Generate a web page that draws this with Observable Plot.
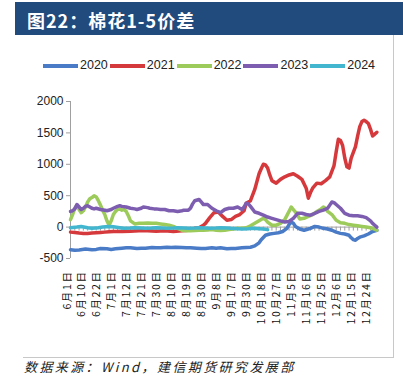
<!DOCTYPE html>
<html><head><meta charset="utf-8">
<script src="https://cdn.jsdelivr.net/npm/d3@7"></script>
<script src="https://cdn.jsdelivr.net/npm/@observablehq/plot@0.6"></script>
<style>
body{margin:0;background:#fff;}
#wrap{position:relative;width:403px;height:392px;overflow:hidden;background:#fff;font-family:"Liberation Sans",Arial,sans-serif;}
#title{position:absolute;left:15px;top:2px;width:388px;height:33px;background:#214a7d;color:#fff;font-family:"Noto Sans CJK SC";font-weight:bold;font-size:18px;line-height:33px;padding-left:12px;box-sizing:border-box;letter-spacing:1px}
#title span{position:relative;top:2px}
#legend{position:absolute;left:43px;top:58px;height:15px;display:flex;align-items:center}
.sw{width:35px;height:4px;margin-right:2px}
.lt{font-size:12.5px;color:#222;margin-right:2px;line-height:15px}
#chart{position:absolute;left:0;top:80px}
#frameR{position:absolute;left:393px;top:35px;width:1px;height:322px;background:#c8c8c8}
#frameB{position:absolute;left:23px;top:357px;width:371px;height:1px;background:#c8c8c8}
#caption{position:absolute;left:24px;top:358px;font-family:"Noto Sans CJK SC";font-style:italic;font-size:13px;letter-spacing:2.4px;color:#222;line-height:18px;white-space:nowrap}
</style></head>
<body>
<div id="wrap">
  <div id="title"><span>图22：棉花1-5价差</span></div>
  <div id="legend"></div>
  <div id="chart"></div>
  <div id="frameR"></div>
  <div id="frameB"></div>
  <div id="caption">数据来源：Wind，建信期货研究发展部</div>
</div>
<script>
const labels = ["6月1日","6月10日","6月22日","7月1日","7月12日","7月21日","7月30日","8月10日","8月19日","8月30日","9月8日","9月17日","9月30日","10月18日","10月27日","11月5日","11月16日","11月25日","12月6日","12月15日","12月24日"];
const labelStep = 7;
const years = ["2020","2021","2022","2023","2024"];
const colors = ["#4a7bc6","#d5393c","#9dcb5b","#7d5db0","#43b6cf"];
const yTicks = [-500, 0, 500, 1000, 1500, 2000];

// [trading-day index, spread]
const s2020 = [[0,-360],[2,-370],[4,-365],[7,-350],[10,-360],[12,-355],[14,-340],[17,-345],[19,-355],[21,-345],[24,-335],[26,-330],[28,-330],[31,-340],[33,-335],[35,-335],[38,-325],[40,-330],[42,-330],[45,-320],[47,-325],[49,-320],[52,-325],[54,-330],[56,-330],[59,-335],[61,-340],[63,-340],[66,-330],[68,-335],[70,-330],[73,-345],[75,-340],[77,-340],[80,-330],[82,-325],[84,-320],[86,-300],[88,-250],[89,-200],[91,-130],[93,-110],[95,-100],[97,-90],[99,-70],[101,-20],[102,40],[103,80],[104,60],[105,10],[107,-30],[109,-50],[111,-30],[112,-20],[114,10],[116,0],[118,-20],[120,-30],[122,-50],[124,-80],[126,-100],[128,-110],[130,-130],[131,-170],[132,-200],[133,-210],[134,-180],[135,-160],[137,-140],[139,-110],[141,-70],[143,-50]];
const s2021 = [[0,-80],[2,-85],[4,-95],[6,-100],[8,-100],[10,-95],[12,-90],[14,-85],[16,-80],[18,-75],[20,-70],[24,-70],[28,-65],[32,-60],[36,-60],[40,-65],[44,-60],[48,-70],[52,-60],[55,-50],[58,-20],[60,-10],[62,30],[63,60],[65,150],[67,230],[69,240],[71,170],[73,110],[75,120],[77,170],[79,200],[81,260],[82,380],[84,420],[86,600],[88,850],[89,930],[90,1000],[91,990],[92,940],[93,830],[94,740],[96,700],[98,760],[100,800],[102,830],[104,850],[106,810],[108,760],[110,620],[111,460],[112,550],[113,620],[115,700],[117,690],[119,740],[121,800],[123,980],[124,1200],[125,1400],[126,1380],[127,1300],[128,1100],[129,960],[130,940],[131,1100],[133,1280],[134,1450],[135,1600],[136,1680],[137,1700],[138,1680],[139,1650],[140,1560],[141,1450],[142,1480],[143,1510]];
const s2022 = [[0,120],[1,200],[2,300],[3,350],[4,280],[5,230],[6,260],[7,320],[8,400],[9,450],[10,470],[11,500],[12,480],[13,420],[14,350],[15,270],[16,200],[17,100],[18,30],[19,100],[20,200],[21,250],[22,280],[23,290],[24,270],[25,280],[26,250],[27,180],[28,100],[30,50],[32,60],[34,60],[36,65],[38,60],[40,60],[42,50],[44,40],[46,30],[48,10],[50,-20],[52,-50],[54,-60],[56,-60],[58,-55],[60,-50],[62,-50],[64,-45],[66,-40],[68,-50],[70,-55],[72,-50],[74,-40],[76,-30],[78,-20],[80,-20],[82,-10],[84,20],[86,60],[88,100],[90,140],[91,120],[92,80],[94,30],[96,30],[98,60],[100,120],[102,250],[103,320],[104,280],[105,240],[107,130],[109,140],[111,170],[113,200],[115,250],[117,290],[118,320],[119,300],[120,250],[122,200],[124,110],[126,70],[128,60],[130,40],[132,30],[134,20],[136,10],[138,0],[140,-10],[141,-20],[143,-50]];
const s2023 = [[0,250],[1,260],[2,290],[3,360],[4,320],[5,280],[6,300],[7,330],[8,340],[9,320],[10,300],[11,290],[12,300],[14,280],[16,270],[17,260],[19,280],[20,300],[22,330],[23,340],[24,330],[26,320],[28,300],[30,290],[31,280],[33,300],[34,320],[36,310],[37,300],[39,290],[40,290],[42,280],[44,280],[46,260],[48,260],[50,250],[52,260],[53,270],[55,270],[56,300],[57,370],[58,420],[60,440],[61,400],[62,360],[64,360],[66,300],[68,260],[70,230],[72,280],[74,300],[76,300],[78,320],[80,280],[81,320],[82,380],[83,370],[84,330],[86,240],[88,220],[90,190],[92,160],[94,140],[96,120],[98,100],[100,80],[102,90],[104,140],[106,220],[108,220],[110,200],[112,190],[114,220],[116,250],[118,270],[120,300],[121,350],[122,400],[123,390],[124,360],[126,300],[128,220],[130,190],[132,180],[134,180],[136,170],[138,150],[140,100],[141,60],[142,30],[143,0]];
const s2024 = [[0,-10],[3,0],[5,10],[8,-10],[10,-20],[13,-10],[15,0],[18,10],[20,5],[23,-10],[25,-20],[28,-15],[30,-10],[33,-15],[35,-20],[38,-15],[40,-10],[43,-15],[45,-20],[48,-15],[50,-10],[53,-15],[55,-20],[58,-15],[60,-10],[63,-15],[65,-20],[68,-15],[70,-10],[73,-15],[75,-20],[78,-25],[80,-30],[83,-25],[85,-20],[88,-25],[90,-30],[92,-40]];

const series = [s2020, s2021, s2022, s2023, s2024];
const rows = series.flatMap((s, k) => s.map(([i, v]) => ({year: years[k], i, v})));
const lastIndex = 143;
const labelIdx = labels.map((_, k) => k * labelStep);

// legend
const lg = document.getElementById("legend");
years.forEach((y, k) => {
  const sw = document.createElement("span"); sw.className = "sw"; sw.style.background = colors[k];
  const t = document.createElement("span"); t.className = "lt"; t.textContent = y;
  lg.appendChild(sw); lg.appendChild(t);
});

const H = 265, mT = 21, mB = 87;
const pxPerUnit = (H - mT - mB) / (yTicks[yTicks.length-1] - yTicks[0]);
const tickLen = 4 / pxPerUnit;

const chart = Plot.plot({
  width: 403, height: H,
  marginLeft: 70, marginRight: 26.6, marginTop: mT, marginBottom: mB,
  style: {fontFamily: "Liberation Sans, Arial, sans-serif", fontSize: "12px", color: "#222", background: "transparent"},
  x: {domain: [0, lastIndex], axis: null},
  y: {domain: [yTicks[0], yTicks[yTicks.length-1]], axis: null},
  color: {domain: years, range: colors},
  marks: [
    Plot.ruleY([0], {stroke: "#a0a0a0", strokeWidth: 1}),
    Plot.ruleX(d3.range(0, lastIndex + 1, 2), {x: d => d, y1: 0, y2: -tickLen, stroke: "#a0a0a0"}),
    Plot.ruleX([0], {y1: yTicks[0], y2: yTicks[yTicks.length-1], stroke: "#a0a0a0"}),
    Plot.axisY({ticks: yTicks, tickSize: 4, tickPadding: 3, anchor: "left", label: null, stroke: "#a0a0a0", fill: "#222", fontSize: 12, tickFormat: d => String(d)}),
    Plot.line(rows, {x: "i", y: "v", z: "year", stroke: "year", strokeWidth: 3.5, strokeLinejoin: "round"}),
    Plot.text(labelIdx, {x: d => d, text: (d, k) => labels[k], frameAnchor: "bottom", rotate: -90, textAnchor: "end", dy: 12, fontSize: 10.5, fontFamily: "Noto Sans CJK SC", fill: "#111"})
  ]
});
document.getElementById("chart").appendChild(chart);
d3.select(chart).selectAll('g[aria-label="text"] text').style("letter-spacing", "1.6px");
</script>
</body></html>
